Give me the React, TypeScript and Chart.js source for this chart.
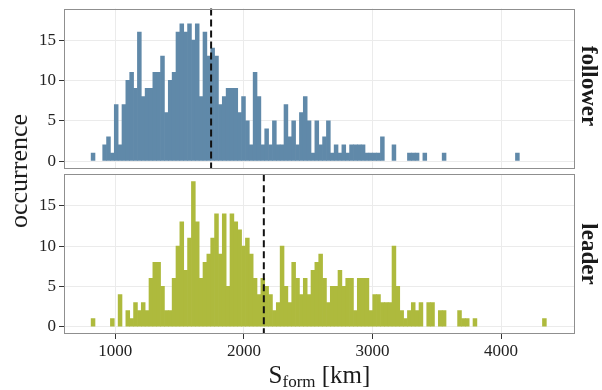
import React, { useEffect, useRef } from "react";
import { Chart, registerables } from "chart.js";

Chart.register(...registerables);

// ---- data ----
const binStart = 812; // km, left edge of first bin
const binWidth = 30; // km
const followerCounts = [
  1, 0, 0, 2, 3, 1, 7, 2, 7, 10,
  11, 9, 16, 8, 9, 9, 11, 11, 13, 6,
  10, 11, 16, 17, 16, 17, 15, 17, 8, 16,
  13, 14, 13, 7, 8, 9, 9, 9, 6, 8,
  5, 2, 11, 8, 2, 4, 2, 5, 2, 2,
  7, 3, 5, 2, 6, 8, 5, 1, 5, 2,
  3, 5, 1, 2, 1, 2, 1, 2, 2, 2,
  2, 1, 1, 1, 1, 3, 0, 0, 2, 0,
  0, 0, 1, 1, 1, 0, 1, 0, 0, 0,
  0, 1, 0, 0, 0, 0, 0, 0, 0, 0,
  0, 0, 0, 0, 0, 0, 0, 0, 0, 0,
  1,
];
const leaderCounts = [
  1, 0, 0, 0, 0, 1, 0, 4, 0, 2,
  1, 3, 2, 3, 2, 6, 8, 8, 5, 2,
  2, 6, 10, 13, 7, 11, 18, 13, 6, 8,
  9, 11, 14, 9, 14, 5, 14, 13, 12, 10,
  11, 9, 6, 4, 6, 5, 4, 2, 3, 10,
  5, 3, 8, 6, 4, 6, 4, 7, 8, 9,
  6, 3, 5, 5, 7, 5, 6, 6, 2, 6,
  6, 6, 2, 4, 4, 3, 3, 3, 10, 5,
  2, 1, 2, 3, 2, 3, 0, 3, 3, 0,
  2, 2, 0, 0, 0, 2, 1, 1, 0, 1,
  0, 0, 0, 0, 0, 0, 0, 0, 0, 0,
  0, 0, 0, 0, 0, 0, 0, 1,
];
const followerMean = 1745;
const leaderMean = 2155;
const xTicks = [1000, 2000, 3000, 4000];
const yTicks = [0, 5, 10, 15];
const xMin = 601;
const xMax = 4575;
const yMin = -0.9;
const yMax = 18.9;

const followerColor = "#6089a9";
const leaderColor = "#aeba3d";
const serif = "'Liberation Serif', 'DejaVu Serif', serif";
const tickFont = { family: serif, size: 17 };

function panelPlugin(mean: number) {
  return {
    id: "panelDeco",
    afterDatasetsDraw(chart: any) {
      const { ctx, chartArea: a, scales } = chart;
      const px = scales.x.getPixelForValue(mean);
      ctx.save();
      ctx.strokeStyle = "#111";
      ctx.lineWidth = 2;
      ctx.setLineDash([7, 4]);
      ctx.beginPath();
      ctx.moveTo(px, a.top);
      ctx.lineTo(px, a.bottom);
      ctx.stroke();
      ctx.setLineDash([]);
      ctx.strokeStyle = "#8f8f8f";
      ctx.lineWidth = 1;
      ctx.strokeRect(
        Math.round(a.left) + 0.5,
        Math.round(a.top) + 0.5,
        Math.round(a.right - a.left) - 1,
        Math.round(a.bottom - a.top) - 1
      );
      ctx.restore();
    },
  };
}

function makeConfig(
  counts: number[],
  color: string,
  mean: number,
  showX: boolean,
  padTop: number,
  padBottom: number,
  xHeight: number
): any {
  // empty bins are not drawn (null), but keep their x so bar widths stay uniform
  const data = counts.map((c, i) => ({
    x: binStart + binWidth * (i + 0.5),
    y: c === 0 ? null : c,
  }));
  return {
    type: "bar",
    data: {
      datasets: [
        {
          data,
          backgroundColor: color,
          borderWidth: 0,
          barPercentage: 1,
          categoryPercentage: 1,
          grouped: false,
        },
      ],
    },
    options: {
      animation: false,
      responsive: false,
      devicePixelRatio: 1,
      layout: { padding: { left: 0, right: 27, top: padTop, bottom: padBottom } },
      plugins: { legend: { display: false }, tooltip: { enabled: false } },
      scales: {
        x: {
          type: "linear",
          offset: false,
          min: xMin,
          max: xMax,
          afterBuildTicks: (s: any) => {
            s.ticks = xTicks.map((v) => ({ value: v }));
          },
          afterFit: (s: any) => {
            s.height = xHeight;
            s.paddingLeft = 0;
            s.paddingRight = 0;
          },
          ticks: {
            display: showX,
            font: tickFont,
            color: "#222",
            padding: 2,
            maxRotation: 0,
            autoSkip: false,
            callback: (v: any) => String(v),
          },
          grid: {
            offset: false,
            color: "#ebebeb",
            tickColor: showX ? "#333" : "rgba(0,0,0,0)",
            tickLength: showX ? 5 : 0,
            lineWidth: 1,
          },
          border: { display: false },
        },
        y: {
          type: "linear",
          min: yMin,
          max: yMax,
          afterBuildTicks: (s: any) => {
            s.ticks = yTicks.map((v) => ({ value: v }));
          },
          afterFit: (s: any) => {
            s.width = 64;
            s.paddingTop = 0;
            s.paddingBottom = 0;
          },
          ticks: {
            font: tickFont,
            color: "#222",
            padding: 3,
            callback: (v: any) => String(v),
          },
          grid: {
            color: "#ebebeb",
            tickColor: "#333",
            tickLength: 5,
            lineWidth: 1,
          },
          border: { display: false },
        },
      },
    },
    plugins: [panelPlugin(mean)],
  };
}

export default function App() {
  const topRef = useRef<HTMLCanvasElement>(null);
  const botRef = useRef<HTMLCanvasElement>(null);

  useEffect(() => {
    const c1 = new Chart(
      topRef.current as HTMLCanvasElement,
      makeConfig(followerCounts, followerColor, followerMean, false, 8.6, 3.7, 0)
    );
    const c2 = new Chart(
      botRef.current as HTMLCanvasElement,
      makeConfig(leaderCounts, leaderColor, leaderMean, true, 2.3, 0, 56)
    );
    return () => {
      c1.destroy();
      c2.destroy();
    };
  }, []);

  const stripStyle: React.CSSProperties = {
    position: "absolute",
    left: 589,
    transform: "translate(-50%, -50%) rotate(90deg)",
    fontFamily: serif,
    fontWeight: "bold",
    fontSize: 23,
    color: "#1a1a1a",
    whiteSpace: "nowrap",
    lineHeight: 1,
  };

  return (
    <div
      style={{
        position: "absolute",
        left: 0,
        top: 0,
        width: 602,
        height: 390,
        background: "#fff",
        overflow: "hidden",
      }}
    >
      <canvas
        ref={topRef}
        width={602}
        height={172}
        style={{ position: "absolute", left: 0, top: 0, width: 602, height: 172 }}
      />
      <canvas
        ref={botRef}
        width={602}
        height={218}
        style={{ position: "absolute", left: 0, top: 172, width: 602, height: 218 }}
      />
      <div
        style={{
          position: "absolute",
          left: 19,
          top: 171,
          transform: "translate(-50%, -50%) rotate(-90deg)",
          fontFamily: serif,
          fontSize: 26,
          color: "#1a1a1a",
          whiteSpace: "nowrap",
          lineHeight: 1,
        }}
      >
        occurrence
      </div>
      <div style={{ ...stripStyle, top: 86 }}>follower</div>
      <div style={{ ...stripStyle, top: 254 }}>leader</div>
      <div
        style={{
          position: "absolute",
          left: 319.5,
          top: 376,
          transform: "translate(-50%, -50%)",
          fontFamily: serif,
          fontSize: 25,
          color: "#1a1a1a",
          whiteSpace: "nowrap",
          lineHeight: 1,
        }}
      >
        S<span style={{ fontSize: "0.68em", verticalAlign: "-0.28em" }}>form</span> [km]
      </div>
    </div>
  );
}
